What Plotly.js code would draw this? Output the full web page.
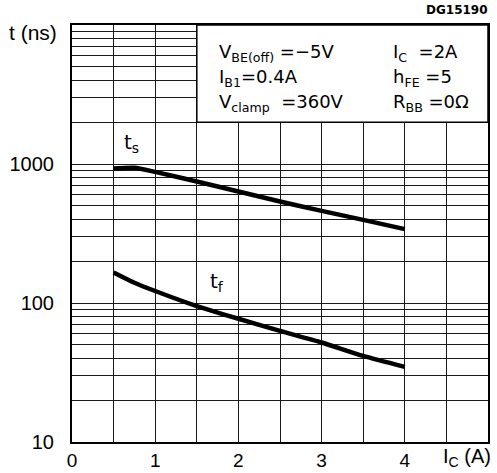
<!DOCTYPE html>
<html>
<head>
<meta charset="utf-8">
<script src="https://cdn.plot.ly/plotly-3.0.1.min.js"></script>
<style>html,body{margin:0;padding:0;background:#fff;}#chart{width:497px;height:473px;}</style>
</head>
<body>
<div id="chart"></div>
<script>
// Data
const currentA = [0.5, 0.75, 1, 1.5, 2, 2.5, 3, 3.5, 4];
const tsNs = [930, 940, 877, 748, 634, 537, 460, 396, 340];
const tfNs = [166, 140, 122, 95, 77, 63, 52, 41.6, 34.7];

const xTickVals = [0, 0.5, 1, 1.5, 2, 2.5, 3, 3.5, 4, 4.5, 5];
const xTickText = ['0', '', '1', '', '2', '', '3', '', '4', '', ''];
const yTickVals = [10,20,30,40,50,60,70,80,90,100,200,300,400,500,600,700,800,900,1000,2000,3000,4000,5000,6000,7000,8000,9000,10000];
const yTickText = yTickVals.map(v => (v === 10 || v === 100 || v === 1000) ? String(v) : '');

const FONT = 'Liberation Sans, Arial, sans-serif';
const FONT2 = 'DejaVu Sans, sans-serif';

const traces = [
  {x: currentA, y: tsNs, mode: 'lines', line: {color: '#000', width: 4.5, shape: 'spline', smoothing: 0.6}, hoverinfo: 'skip'},
  {x: currentA, y: tfNs, mode: 'lines', line: {color: '#000', width: 4.5, shape: 'spline', smoothing: 0.6}, hoverinfo: 'skip'}
];

const txt = (text, x, y, opts) => Object.assign({
  text: text, x: x, y: y, xref: 'x', yref: 'y', showarrow: false,
  xanchor: 'left', yanchor: 'middle', font: {family: FONT2, size: 18, color: '#000'}
}, opts || {});

const ptxt = (text, x, y, opts) => Object.assign({
  text: text, x: x, y: y, xref: 'paper', yref: 'paper', showarrow: false,
  xanchor: 'left', yanchor: 'middle', font: {family: FONT2, size: 20, color: '#000'}
}, opts || {});

const layout = {
  width: 497, height: 473,
  margin: {l: 72, r: 9, t: 25, b: 31, pad: 0},
  paper_bgcolor: '#fff', plot_bgcolor: '#fff',
  showlegend: false,
  font: {family: FONT, size: 20, color: '#000'},
  xaxis: {
    range: [0, 5], tickmode: 'array', tickvals: xTickVals, ticktext: xTickText,
    showgrid: true, gridcolor: '#1a1a1a', gridwidth: 1,
    showline: true, linecolor: '#000', linewidth: 2, mirror: true,
    ticks: '', ticklen: 0,
    zeroline: false, fixedrange: true,
    tickfont: {family: FONT, size: 19, color: '#000'}
  },
  yaxis: {
    type: 'log', range: [1, 4], tickmode: 'array', tickvals: yTickVals, ticktext: yTickText,
    showgrid: true, gridcolor: '#1a1a1a', gridwidth: 1,
    showline: true, linecolor: '#000', linewidth: 2, mirror: true,
    ticks: 'outside', ticklen: 12, tickcolor: 'rgba(0,0,0,0)',
    zeroline: false, fixedrange: true,
    tickfont: {family: FONT, size: 20, color: '#000'}
  },
  shapes: [
    {type: 'rect', xref: 'x', yref: 'y', x0: 1.5, x1: 5, y0: 2000, y1: 10000,
     fillcolor: '#fff', line: {color: '#000', width: 1.5}, layer: 'above'}
  ],
  annotations: [
    ptxt('t (ns)', -0.094, 0.983, {xanchor: 'center', font: {family: FONT, size: 21, color: '#000'}}),
    ptxt('<b>DG15190</b>', 1.005, 1.036, {xanchor: 'right', font: {family: FONT2, size: 12, color: '#000'}}),
    txt('V<sub>BE(off)</sub> =−5V', 1.744, 3.80),
    txt('I<sub>B1</sub>=0.4A', 1.744, 3.62),
    txt('V<sub>clamp</sub>  =360V', 1.744, 3.44),
    txt('I<sub>C</sub>  =2A', 3.83, 3.80),
    txt('h<sub>FE</sub> =5', 3.83, 3.62),
    txt('R<sub>BB</sub> =0Ω', 3.83, 3.44),
    txt('t<sub>s</sub>', 0.60, 3.15, {font: {family: FONT2, size: 20, color: '#000'}}),
    txt('t<sub>f</sub>', 1.64, 2.15, {font: {family: FONT2, size: 20, color: '#000'}}),
    ptxt('I<sub>C</sub> (A)', 0.888, -0.038, {font: {family: FONT, size: 20, color: '#000'}})
  ]
};

Plotly.newPlot('chart', traces, layout, {staticPlot: true, displayModeBar: false});
</script>
</body>
</html>
